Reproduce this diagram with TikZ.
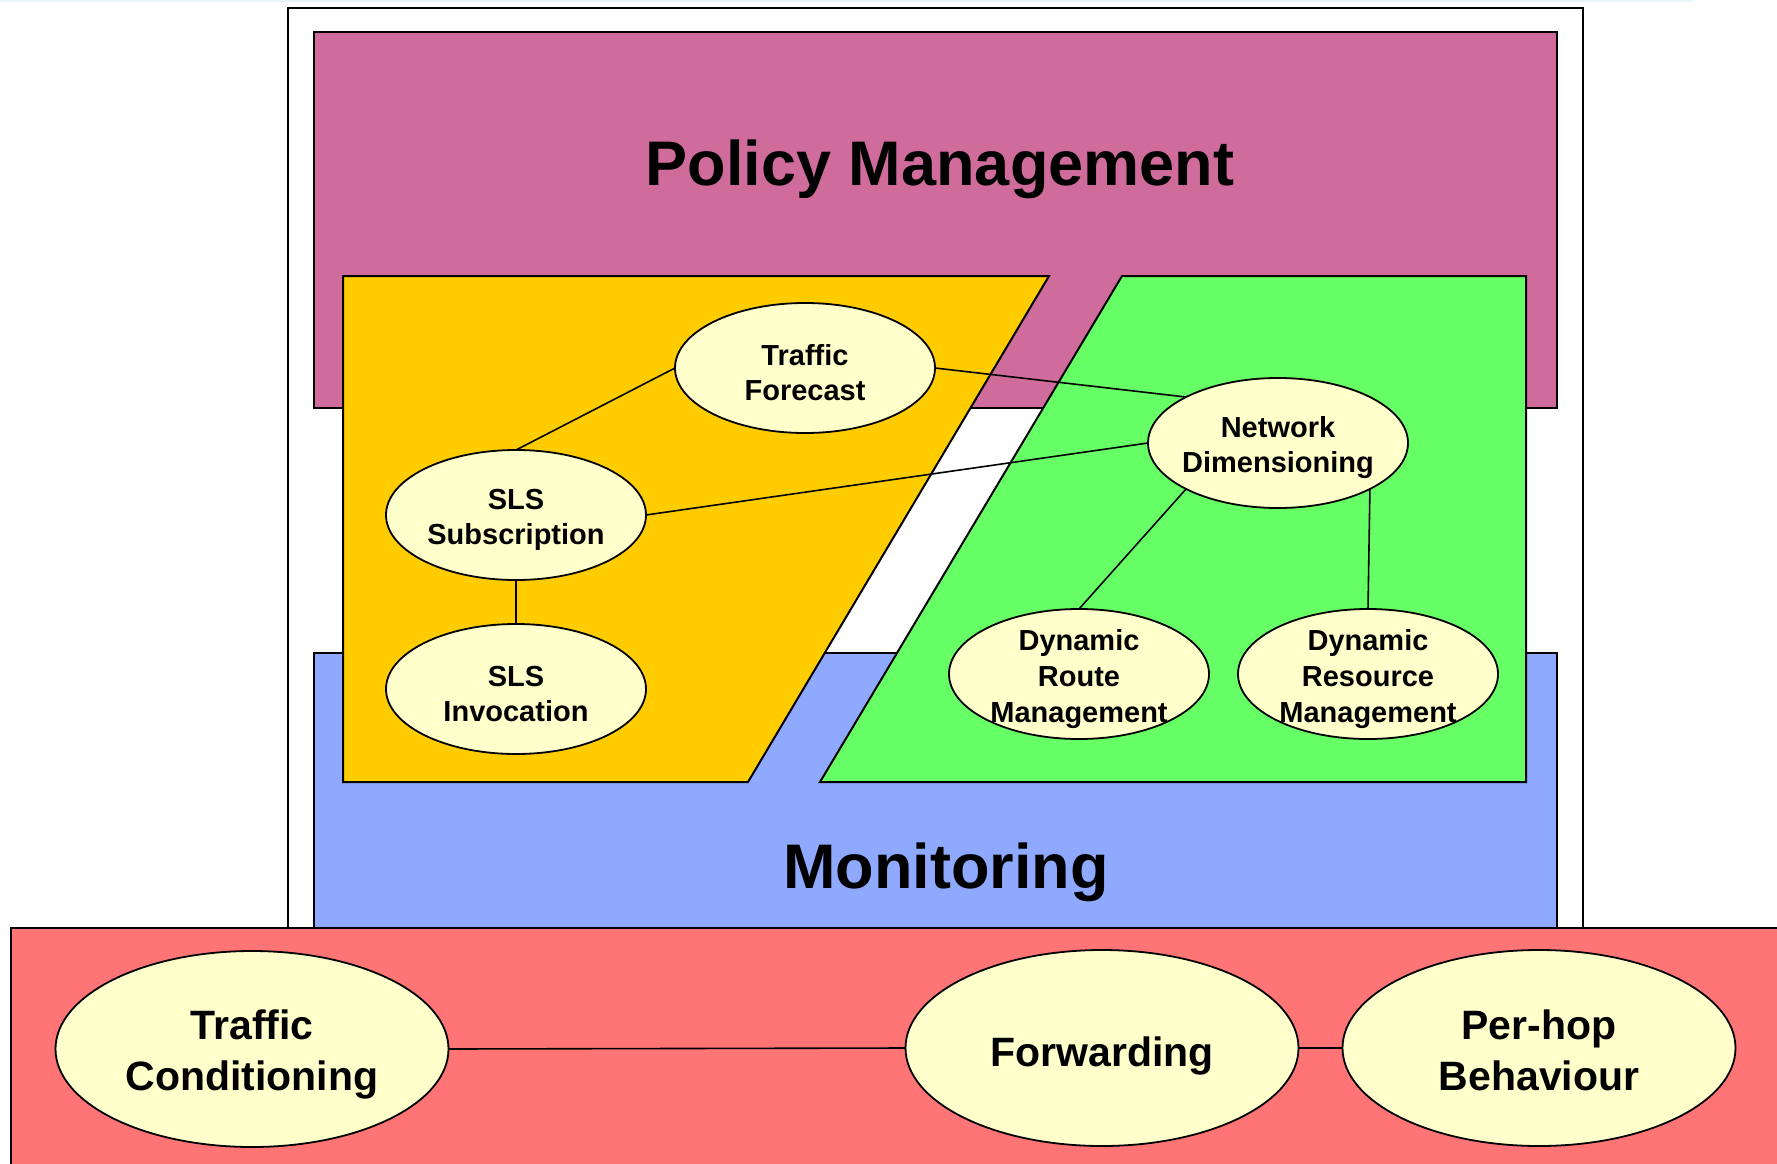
\documentclass[tikz,border=0pt]{standalone}
\usepackage{fontspec}
\setmainfont{Liberation Sans}
\usetikzlibrary{shapes.geometric}
\definecolor{pinkc}{HTML}{CF6C9C}
\definecolor{yellowc}{HTML}{FFCC00}
\definecolor{greenc}{HTML}{66FF66}
\definecolor{bluec}{HTML}{8FA9FF}
\definecolor{redc}{HTML}{FF7575}
\definecolor{ellc}{HTML}{FFFFCC}
\definecolor{topc}{HTML}{E4F6F6}
\begin{document}
\begin{tikzpicture}[x=1pt,y=-1pt,
 box/.style={draw=black,line width=2pt},
 ell/.style={ellipse,draw=black,line width=1.8pt,fill=ellc,inner sep=0pt,outer sep=0pt,minimum width=260pt,minimum height=130pt},
 bigell/.style={ell,minimum width=393pt,minimum height=196pt},
 lbl/.style={font=\fontsize{29}{35}\selectfont\bfseries,align=center,inner sep=0pt,yshift=-5pt},
 biglbl/.style={font=\fontsize{41}{51}\selectfont\bfseries,align=center,inner sep=0pt,yshift=-5pt},
 title/.style={font=\fontsize{63}{75}\selectfont\bfseries,inner sep=0pt,anchor=base},
 link/.style={draw=black,line width=1.6pt}]
\clip (0,0) rectangle (1777,1164);
\fill[white] (0,0) rectangle (1777,1164);
\fill[topc] (0,0) rectangle (1693,2.5);
% frames
\draw[box,fill=white] (288,8) rectangle (1583,940);
\draw[box,fill=pinkc] (314,32) rectangle (1557,408);
\draw[box,fill=bluec] (314,653) rectangle (1557,940);
\draw[box,fill=yellowc] (343,276) -- (1049,276) -- (748,782) -- (343,782) -- cycle;
\draw[box,fill=greenc] (1122,276) -- (1526,276) -- (1526,782) -- (820,782) -- cycle;
\draw[box,fill=redc] (11,928) rectangle (1800,1200);
% titles
\node[title] (pm) at (940,185) {Policy Management};
\node[title] (mon) at (946,888) {Monitoring};
% ellipses
\node[ell] (tf) at (805,368) {};
\node[ell] (nd) at (1278,443) {};
\node[ell] (ss) at (516,515) {};
\node[ell] (si) at (516,689) {};
\node[ell] (drm) at (1079,674) {};
\node[ell] (dres) at (1368,674) {};
\node[bigell] (tc) at (252,1049) {};
\node[bigell] (fw) at (1102,1048) {};
\node[bigell] (phb) at (1539,1048) {};
% connectors
\draw[link] (ss.north) -- (tf.west);
\draw[link] (tf.east) -- (nd.north west);
\draw[link] (ss.east) -- (nd.west);
\draw[link] (ss.south) -- (si.north);
\draw[link] (nd.south west) -- (drm.north);
\draw[link] (nd.south east) -- (dres.north);
\draw[link] (tc.east) -- (fw.west);
\draw[link] (fw.east) -- (phb.west);
% labels
\node[lbl] (tft) at (tf.center) {Traffic\\Forecast};
\node[lbl] (ndt) at (nd.center) {Network\\Dimensioning};
\node[lbl] (sst) at (ss.center) {SLS\\Subscription};
\node[lbl] (sit) at (si.center) {SLS\\Invocation};
\node[lbl,font=\fontsize{29}{36}\selectfont\bfseries] (drmt) at (drm.center) {Dynamic\\Route\\Management};
\node[lbl,font=\fontsize{29}{36}\selectfont\bfseries] (drest) at (dres.center) {Dynamic\\Resource\\Management};
\node[biglbl] (tct) at (tc.center) {Traffic\\Conditioning};
\node[biglbl,yshift=-3pt] (fwt) at (fw.center) {Forwarding};
\node[biglbl,yshift=3pt] (phbt) at (phb.center) {Per-hop\\Behaviour};
\end{tikzpicture}
\end{document}
